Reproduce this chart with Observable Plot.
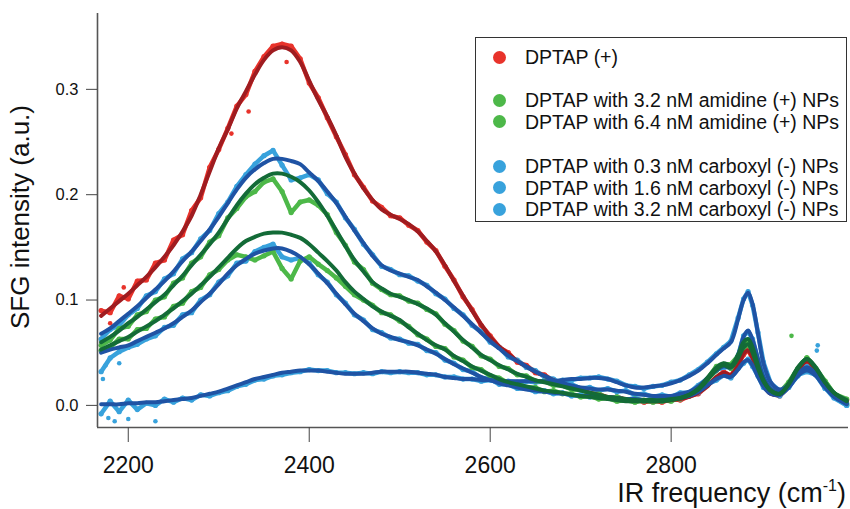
<!DOCTYPE html>
<html>
<head>
<meta charset="utf-8">
<script src="https://cdn.jsdelivr.net/npm/d3@7"></script>
<script src="https://cdn.jsdelivr.net/npm/@observablehq/plot@0.6"></script>
<style>
  html, body { margin: 0; padding: 0; background: #fff; }
  #wrap { position: relative; width: 850px; height: 509px; overflow: hidden; font-family: "Liberation Sans", Arial, Helvetica, sans-serif; color: #111; }
  #wrap svg { position: absolute; left: 0; top: 0; }
  .ytitle { position: absolute; left: 20px; top: 217px; transform: translate(-50%, -50%) rotate(-90deg); font-size: 26px; white-space: nowrap; }
  .xtitle { position: absolute; right: 4px; top: 478px; font-size: 27px; white-space: nowrap; }
  .xtitle sup { font-size: 16px; vertical-align: 11px; line-height: 0; }
  .legend { position: absolute; left: 475px; top: 37px; width: 372px; height: 185px; border: 1px solid #333; box-sizing: border-box; background: #fff; }
  .legend .row { position: absolute; left: 0; height: 22px; font-size: 19.5px; line-height: 22px; white-space: nowrap; }
  .legend .sw { position: absolute; left: 17px; top: 4.5px; width: 13px; height: 13px; border-radius: 50%; }
  .legend .lab { position: absolute; left: 49px; top: 0; }
</style>
</head>
<body>
<div id="wrap"></div>
<script>
// ---- axis setup ----
const xDomain = [2166, 2996];
const yDomain = [-0.021, 0.372];
const xTicks = [2200, 2400, 2600, 2800];
const yTicks = [0, 0.1, 0.2, 0.3];

// ---- shared frequency grid (cm-1) ----
const freq = [2170,2180,2190,2200,2210,2220,2230,2240,2250,2260,2270,2280,2290,2300,2310,2320,2330,2340,2350,2360,2370,2380,2390,2400,2410,2420,2430,2440,2450,2460,2470,2480,2490,2500,2510,2520,2530,2540,2550,2560,2570,2580,2590,2600,2610,2620,2630,2640,2650,2660,2670,2680,2690,2700,2710,2720,2730,2740,2750,2760,2770,2780,2790,2800,2810,2820,2830,2840,2850,2858,2866,2874,2880,2885,2890,2896,2902,2910,2920,2930,2940,2950,2960,2970,2980,2994];

// ---- series names ----
const names = [
  "DPTAP (+)",
  "DPTAP with 3.2 nM amidine (+) NPs",
  "DPTAP with 6.4 nM amidine (+) NPs",
  "DPTAP with 0.3 nM carboxyl (-) NPs",
  "DPTAP with 1.6 nM carboxyl (-) NPs",
  "DPTAP with 3.2 nM carboxyl (-) NPs"
];

// ---- fitted curves ----
const fitRed = [0.085,0.092,0.099,0.106,0.114,0.122,0.131,0.141,0.152,0.165,0.180,0.200,0.222,0.244,0.262,0.282,0.298,0.314,0.328,0.337,0.340,0.337,0.326,0.308,0.290,0.274,0.256,0.236,0.220,0.206,0.195,0.186,0.181,0.177,0.172,0.165,0.156,0.146,0.133,0.118,0.104,0.090,0.077,0.065,0.056,0.049,0.042,0.037,0.032,0.028,0.024,0.021,0.018,0.015,0.012,0.010,0.008,0.007,0.006,0.005,0.004,0.004,0.004,0.005,0.006,0.008,0.012,0.018,0.027,0.031,0.029,0.038,0.049,0.052,0.045,0.030,0.019,0.011,0.010,0.018,0.033,0.042,0.034,0.020,0.011,0.004];
const fitGreen1 = [0.053,0.057,0.061,0.065,0.070,0.075,0.080,0.086,0.092,0.099,0.106,0.114,0.122,0.131,0.140,0.149,0.156,0.160,0.163,0.164,0.164,0.162,0.159,0.153,0.145,0.137,0.128,0.117,0.108,0.101,0.094,0.089,0.085,0.081,0.074,0.068,0.062,0.057,0.053,0.047,0.042,0.037,0.033,0.029,0.025,0.022,0.020,0.018,0.016,0.014,0.013,0.012,0.010,0.009,0.008,0.007,0.006,0.005,0.004,0.004,0.004,0.004,0.004,0.005,0.007,0.010,0.016,0.026,0.036,0.040,0.038,0.048,0.060,0.063,0.055,0.038,0.024,0.014,0.011,0.021,0.036,0.044,0.036,0.022,0.012,0.005];
const fitGreen2 = [0.060,0.065,0.071,0.078,0.084,0.091,0.098,0.105,0.114,0.123,0.133,0.143,0.153,0.164,0.177,0.190,0.201,0.210,0.216,0.220,0.220,0.217,0.212,0.204,0.193,0.180,0.166,0.151,0.138,0.127,0.117,0.111,0.106,0.103,0.100,0.096,0.092,0.086,0.078,0.070,0.062,0.055,0.048,0.043,0.038,0.034,0.030,0.027,0.024,0.022,0.020,0.018,0.016,0.014,0.012,0.010,0.008,0.007,0.006,0.005,0.005,0.005,0.005,0.006,0.007,0.010,0.015,0.024,0.034,0.038,0.036,0.045,0.055,0.058,0.050,0.035,0.023,0.014,0.011,0.020,0.035,0.044,0.035,0.022,0.012,0.004];
const fitBlue1 = [0.068,0.073,0.080,0.087,0.094,0.102,0.110,0.118,0.127,0.137,0.146,0.156,0.167,0.179,0.192,0.205,0.216,0.224,0.230,0.234,0.234,0.232,0.229,0.221,0.213,0.203,0.192,0.179,0.166,0.154,0.142,0.133,0.128,0.125,0.122,0.119,0.113,0.107,0.100,0.093,0.085,0.077,0.069,0.061,0.054,0.047,0.042,0.037,0.032,0.028,0.024,0.021,0.019,0.017,0.016,0.015,0.015,0.014,0.013,0.011,0.010,0.009,0.009,0.009,0.011,0.013,0.018,0.026,0.033,0.037,0.036,0.048,0.065,0.071,0.062,0.044,0.027,0.016,0.012,0.018,0.028,0.033,0.028,0.017,0.009,0.002];
const fitBlue2 = [0.050,0.053,0.055,0.057,0.061,0.065,0.069,0.073,0.078,0.084,0.090,0.098,0.106,0.115,0.125,0.133,0.139,0.144,0.147,0.149,0.149,0.146,0.141,0.134,0.125,0.116,0.106,0.096,0.087,0.080,0.073,0.068,0.065,0.062,0.060,0.057,0.053,0.049,0.044,0.039,0.035,0.031,0.027,0.024,0.021,0.019,0.017,0.015,0.014,0.013,0.012,0.011,0.010,0.009,0.009,0.008,0.008,0.007,0.006,0.006,0.005,0.005,0.005,0.006,0.007,0.009,0.013,0.019,0.025,0.028,0.027,0.034,0.041,0.043,0.038,0.027,0.018,0.011,0.010,0.017,0.029,0.036,0.030,0.019,0.009,0.001];
const fitBlue3 = [0.001,0.001,0.001,0.002,0.002,0.003,0.003,0.004,0.005,0.006,0.007,0.009,0.011,0.013,0.016,0.019,0.022,0.025,0.027,0.029,0.031,0.032,0.033,0.033,0.033,0.032,0.031,0.030,0.030,0.030,0.031,0.032,0.032,0.032,0.032,0.031,0.030,0.029,0.027,0.026,0.025,0.025,0.024,0.024,0.023,0.023,0.023,0.023,0.023,0.023,0.023,0.024,0.025,0.025,0.026,0.026,0.025,0.022,0.019,0.017,0.017,0.018,0.019,0.021,0.024,0.028,0.033,0.040,0.048,0.054,0.060,0.082,0.100,0.107,0.096,0.068,0.040,0.022,0.015,0.020,0.030,0.036,0.030,0.018,0.008,0.002];

// ---- measured values ----
const dataRed = [0.090,0.088,0.104,0.101,0.118,0.119,0.135,0.138,0.157,0.162,0.185,0.197,0.226,0.243,0.263,0.284,0.295,0.317,0.331,0.341,0.343,0.341,0.329,0.306,0.292,0.273,0.255,0.238,0.219,0.207,0.194,0.188,0.180,0.178,0.171,0.166,0.155,0.147,0.132,0.119,0.103,0.091,0.076,0.066,0.055,0.050,0.041,0.038,0.031,0.029,0.023,0.022,0.017,0.016,0.011,0.011,0.007,0.008,0.005,0.006,0.003,0.005,0.003,0.006,0.005,0.009,0.011,0.019,0.026,0.032,0.028,0.039,0.048,0.053,0.044,0.031,0.018,0.012,0.009,0.019,0.032,0.043,0.033,0.021,0.010,0.005];
const dataGreen1 = [0.052,0.055,0.063,0.063,0.072,0.073,0.082,0.084,0.094,0.097,0.108,0.112,0.124,0.129,0.138,0.143,0.141,0.138,0.142,0.146,0.130,0.120,0.137,0.141,0.134,0.128,0.121,0.113,0.105,0.100,0.095,0.088,0.086,0.080,0.075,0.067,0.063,0.056,0.054,0.046,0.043,0.036,0.034,0.028,0.026,0.021,0.021,0.017,0.017,0.013,0.014,0.011,0.011,0.008,0.009,0.006,0.007,0.004,0.005,0.003,0.005,0.003,0.005,0.004,0.008,0.009,0.017,0.025,0.037,0.039,0.039,0.047,0.061,0.062,0.056,0.037,0.025,0.013,0.012,0.022,0.035,0.045,0.035,0.023,0.011,0.006];
const dataGreen2 = [0.057,0.062,0.073,0.075,0.086,0.089,0.100,0.103,0.116,0.121,0.135,0.141,0.155,0.161,0.178,0.187,0.198,0.203,0.212,0.215,0.203,0.183,0.193,0.195,0.190,0.181,0.164,0.152,0.136,0.129,0.116,0.110,0.105,0.104,0.099,0.097,0.091,0.087,0.077,0.071,0.061,0.056,0.047,0.044,0.037,0.035,0.029,0.028,0.023,0.023,0.019,0.019,0.015,0.015,0.011,0.011,0.007,0.008,0.005,0.006,0.004,0.006,0.004,0.007,0.006,0.011,0.014,0.025,0.033,0.039,0.035,0.046,0.054,0.059,0.049,0.036,0.022,0.015,0.012,0.021,0.034,0.045,0.034,0.023,0.011,0.002];
const dataBlue1 = [0.063,0.072,0.076,0.086,0.092,0.104,0.108,0.120,0.125,0.139,0.145,0.158,0.166,0.182,0.193,0.208,0.219,0.229,0.237,0.242,0.228,0.214,0.216,0.219,0.214,0.201,0.193,0.178,0.167,0.153,0.143,0.132,0.129,0.124,0.123,0.118,0.114,0.106,0.101,0.092,0.086,0.076,0.070,0.060,0.055,0.046,0.043,0.036,0.033,0.027,0.025,0.020,0.020,0.016,0.017,0.014,0.016,0.013,0.014,0.010,0.011,0.008,0.010,0.008,0.012,0.012,0.019,0.025,0.034,0.036,0.037,0.047,0.066,0.070,0.063,0.043,0.028,0.015,0.013,0.017,0.029,0.032,0.029,0.016,0.010,0.001];
const dataBlue2 = [0.032,0.045,0.051,0.055,0.058,0.063,0.066,0.074,0.076,0.086,0.088,0.100,0.105,0.117,0.123,0.135,0.137,0.146,0.150,0.153,0.141,0.138,0.140,0.135,0.124,0.117,0.105,0.097,0.086,0.081,0.072,0.069,0.064,0.063,0.059,0.058,0.052,0.050,0.043,0.040,0.034,0.032,0.026,0.025,0.020,0.020,0.016,0.016,0.013,0.014,0.011,0.012,0.009,0.010,0.008,0.009,0.007,0.008,0.005,0.007,0.004,0.006,0.004,0.007,0.006,0.010,0.012,0.020,0.024,0.029,0.026,0.035,0.040,0.044,0.037,0.028,0.017,0.012,0.009,0.018,0.028,0.037,0.029,0.020,0.008,0.000];
const dataBlue3 = [-0.008,0.004,-0.006,0.005,-0.004,0.002,0.000,0.006,0.003,0.007,0.005,0.010,0.009,0.012,0.014,0.018,0.020,0.024,0.025,0.028,0.029,0.031,0.032,0.034,0.033,0.033,0.031,0.031,0.030,0.031,0.030,0.032,0.031,0.032,0.031,0.031,0.029,0.029,0.027,0.027,0.025,0.025,0.023,0.024,0.022,0.023,0.022,0.023,0.022,0.023,0.022,0.024,0.024,0.026,0.026,0.027,0.025,0.023,0.019,0.018,0.016,0.018,0.019,0.022,0.024,0.029,0.034,0.041,0.049,0.055,0.061,0.083,0.101,0.108,0.095,0.069,0.041,0.021,0.014,0.019,0.031,0.035,0.031,0.017,0.007,0.000];

// ---- scattered stray points ----
const strayFreq  = [2333, 2314, 2375, 2180, 2195, 2933, 2961, 2962, 2175, 2172, 2185, 2178, 2200, 2230, 2190];
const strayValue = [0.279, 0.258, 0.326, 0.078, 0.112, 0.066, 0.052, 0.057, 0.038, 0.025, -0.015, -0.012, -0.013, -0.015, 0.040];
const strayGroup = ["red","red","red","red","red","green","blue","blue","blue","blue","blue","blue","blue","blue","blue"];

// ---- styles ----
const colorGroup = ["red", "green", "green", "blue", "blue", "blue"];
const lightColor = { red: "#e8332b", green: "#4db849", blue: "#38a2dc" };
const darkColor = { red: "#9f1c20", green: "#136b37", blue: "#1f53a4" };

const fits = [fitRed, fitGreen1, fitGreen2, fitBlue1, fitBlue2, fitBlue3];
const datas = [dataRed, dataGreen1, dataGreen2, dataBlue1, dataBlue2, dataBlue3];

const rowsOf = (arr, k) => freq.map((f, i) => ({ f, v: arr[i], k }));
const drawOrderData = [0, 5, 4, 3, 2, 1];
const drawOrderFit = [0, 5, 4, 3, 2, 1];

const marks = [];
for (const s of drawOrderData) {
  const rows = rowsOf(datas[s], s);
  const c = lightColor[colorGroup[s]];
  marks.push(Plot.line(rows, { x: "f", y: "v", stroke: c, strokeWidth: 4.5, strokeLinejoin: "round", strokeLinecap: "round" }));
  marks.push(Plot.dot(rows, { x: "f", y: "v", r: 2.6, fill: c, stroke: "none" }));
}
const stray = strayFreq.map((f, i) => ({ f, v: strayValue[i], g: strayGroup[i] }));
marks.push(Plot.dot(stray, { x: "f", y: "v", r: 2.3, fill: d => lightColor[d.g], stroke: "none" }));
for (const s of drawOrderFit) {
  marks.push(Plot.line(rowsOf(fits[s], s), { x: "f", y: "v", stroke: darkColor[colorGroup[s]], strokeWidth: 4, curve: "catmull-rom", strokeLinecap: "round" }));
}
marks.push(Plot.ruleX([xDomain[0]], { stroke: "#555", strokeWidth: 1.6 }));
marks.push(Plot.ruleY([yDomain[0]], { stroke: "#555", strokeWidth: 1.6 }));
marks.push(Plot.axisX({ ticks: xTicks, tickFormat: d3.format("d"), tickSize: 15, tickPadding: 14, fontSize: 23, label: null, stroke: "#444" }));
marks.push(Plot.axisY({ ticks: yTicks, tickFormat: d3.format(".1f"), tickSize: 11, tickPadding: 8, fontSize: 16.5, label: null, stroke: "#444" }));

const chart = Plot.plot({
  width: 850,
  height: 509,
  marginTop: 13,
  marginBottom: 82,
  marginLeft: 97,
  marginRight: 2,
  x: { domain: xDomain },
  y: { domain: yDomain },
  style: { fontFamily: "'Liberation Sans', Arial, Helvetica, sans-serif", color: "#111", background: "#fff", overflow: "visible" },
  marks
});

const wrap = document.getElementById("wrap");
wrap.appendChild(chart);

// axis titles
const yt = document.createElement("div");
yt.className = "ytitle";
yt.textContent = "SFG intensity (a.u.)";
wrap.appendChild(yt);
const xt = document.createElement("div");
xt.className = "xtitle";
xt.innerHTML = "IR frequency (cm<sup>-1</sup>)";
wrap.appendChild(xt);

// legend
const legendRows = [0, null, 1, 2, null, 3, 4, 5];
const legendTop = [8, 30, 51, 72.5, 95, 117, 138.5, 160];
const lg = document.createElement("div");
lg.className = "legend";
legendRows.forEach((s, i) => {
  if (s === null) return;
  const row = document.createElement("div");
  row.className = "row";
  row.style.top = legendTop[i] + "px";
  const sw = document.createElement("span");
  sw.className = "sw";
  sw.style.background = lightColor[colorGroup[s]];
  const lab = document.createElement("span");
  lab.className = "lab";
  lab.textContent = names[s];
  row.appendChild(sw);
  row.appendChild(lab);
  lg.appendChild(row);
});
wrap.appendChild(lg);
</script>
</body>
</html>
